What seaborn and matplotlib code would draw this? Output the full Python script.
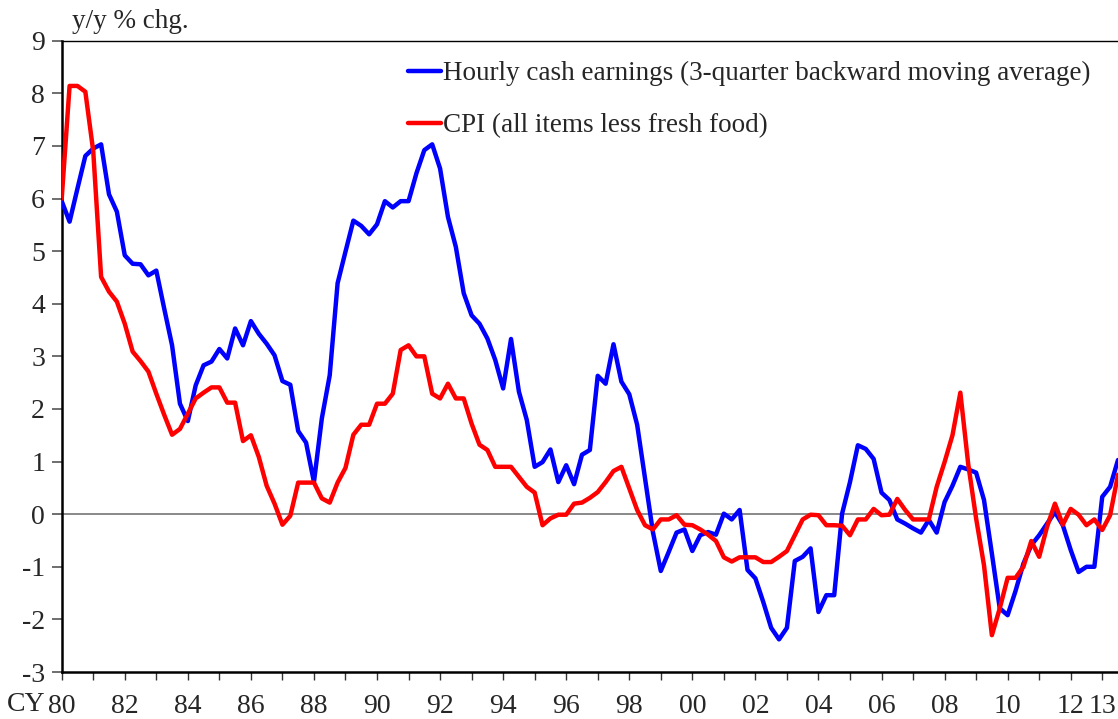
import numpy as np
import pandas as pd
import matplotlib
matplotlib.use('Agg')
import matplotlib.pyplot as plt
import seaborn as sns

# Dados trimestrais: 1980 T1 - 2013 T3
start_year = 1980
wages = [5.95, 5.56, 6.19, 6.81, 6.95, 7.03, 6.08, 5.75, 4.92, 4.76,
         4.75, 4.54, 4.63, 3.91, 3.21, 2.10, 1.77, 2.45, 2.83, 2.90,
         3.14, 2.96, 3.53, 3.21, 3.67, 3.43, 3.24, 3.02, 2.53, 2.46,
         1.58, 1.36, 0.61, 1.82, 2.64, 4.39, 4.99, 5.58, 5.48, 5.32,
         5.51, 5.95, 5.83, 5.95, 5.95, 6.48, 6.92, 7.03, 6.57, 5.65,
         5.08, 4.20, 3.78, 3.62, 3.34, 2.93, 2.39, 3.33, 2.33, 1.79,
         0.90, 0.99, 1.23, 0.61, 0.93, 0.57, 1.13, 1.22, 2.63, 2.48,
         3.23, 2.52, 2.28, 1.70, 0.68, -0.34, -1.08, -0.72, -0.35, -0.29,
         -0.70, -0.40, -0.34, -0.39, 0.01, -0.10, 0.08, -1.06, -1.22, -1.67,
         -2.16, -2.38, -2.16, -0.89, -0.81, -0.65, -1.86, -1.54, -1.54, 0.01,
         0.61, 1.31, 1.24, 1.05, 0.41, 0.27, -0.10, -0.18, -0.27, -0.35,
         -0.11, -0.35, 0.23, 0.54, 0.90, 0.85, 0.79, 0.27, -0.75, -1.79,
         -1.92, -1.46, -0.94, -0.59, -0.40, -0.18, 0.04, -0.21, -0.68, -1.10,
         -1.00, -1.00, 0.33, 0.52, 1.03]
cpi = [6.00, 8.14, 8.14, 8.03, 6.90, 4.51, 4.23, 4.04, 3.62, 3.09,
       2.91, 2.71, 2.29, 1.89, 1.51, 1.62, 1.91, 2.20, 2.31, 2.41,
       2.41, 2.12, 2.12, 1.39, 1.50, 1.09, 0.54, 0.20, -0.20, -0.03,
       0.60, 0.60, 0.60, 0.30, 0.22, 0.60, 0.88, 1.51, 1.70, 1.70,
       2.10, 2.10, 2.29, 3.12, 3.21, 3.00, 3.00, 2.29, 2.20, 2.48,
       2.20, 2.20, 1.72, 1.32, 1.22, 0.90, 0.90, 0.90, 0.71, 0.52,
       0.41, -0.21, -0.08, -0.01, -0.01, 0.20, 0.22, 0.31, 0.42, 0.61,
       0.82, 0.90, 0.49, 0.08, -0.21, -0.29, -0.10, -0.10, -0.02, -0.20,
       -0.21, -0.29, -0.39, -0.51, -0.82, -0.90, -0.82, -0.82, -0.82, -0.91,
       -0.91, -0.81, -0.70, -0.40, -0.10, -0.01, -0.02, -0.21, -0.21, -0.22,
       -0.40, -0.10, -0.10, 0.10, -0.02, -0.01, 0.29, 0.08, -0.10, -0.10,
       -0.10, 0.52, 0.99, 1.50, 2.31, 0.95, -0.08, -0.97, -2.30, -1.79,
       -1.21, -1.21, -1.00, -0.51, -0.81, -0.24, 0.20, -0.20, 0.10, -0.01,
       -0.21, -0.10, -0.30, -0.02, 0.75]

label_wages = 'Hourly cash earnings (3-quarter backward moving average)'
label_cpi = 'CPI (all items less fresh food)'
year_ticks = list(range(1980, 2014))
year_labels = ['80' if y == 1980 else (f'{y % 100:02d}' if y % 2 == 0 or y == 2013 else '')
               for y in year_ticks]

t = start_year + np.arange(len(wages)) / 4
df = pd.DataFrame({'t': t, 'wages': wages, 'cpi': cpi})

# Estilo
sns.set_style('white')
plt.rcParams['font.family'] = ['Liberation Serif', 'DejaVu Serif']
plt.rcParams['axes.unicode_minus'] = False

fig = plt.figure(figsize=(11.18, 7.19), dpi=100)
ax = fig.add_axes([61.7 / 1118, 1 - 672 / 719, 1 - 61.7 / 1118, (672 - 40.7) / 719])

ax.axhline(0, color='#7f7f7f', lw=1.3, zorder=1)
sns.lineplot(data=df, x='t', y='wages', ax=ax, color='#0000ff', lw=3.2, label=label_wages, zorder=3)
sns.lineplot(data=df, x='t', y='cpi', ax=ax, color='#ff0000', lw=3.2, label=label_cpi, zorder=4)

ax.set_xlim(start_year, t[-1])
ax.set_ylim(-3, 9)
ax.set_yticks(range(-3, 10))
ax.set_xticks(year_ticks)
ax.set_xticklabels(year_labels)
ax.set_xlabel('')
ax.set_ylabel('')

for s in ['left', 'bottom']:
    ax.spines[s].set_color('black')
    ax.spines[s].set_linewidth(1.8)
ax.spines['top'].set_color('black')
ax.spines['top'].set_linewidth(1.0)
ax.spines['right'].set_visible(False)

ax.tick_params(axis='y', direction='out', length=7, width=1.2, color='#555555',
               labelsize=20, pad=5, left=True)
ax.tick_params(axis='x', direction='out', length=6, width=1.0, color='#333333',
               labelsize=20, pad=10, bottom=True)

# "CY" antes de 80
ax.annotate('CY', xy=(1980, 0), xycoords=('data', 'axes fraction'),
            xytext=(-11.5, -14.5), textcoords='offset points',
            ha='right', va='top', fontsize=20)

fig.text(72 / 1118, 1 - 22 / 719, 'y/y % chg.', fontsize=19.5, va='center', ha='left')

leg = ax.legend(loc='upper left', bbox_to_anchor=(408 / 1118, 1 - 61 / 719),
                bbox_transform=fig.transFigure, frameon=False, fontsize=19.5,
                handlelength=1.2, handletextpad=0.1, labelspacing=1.0,
                borderaxespad=0, borderpad=0)

fig.savefig('out.png', dpi=100)
